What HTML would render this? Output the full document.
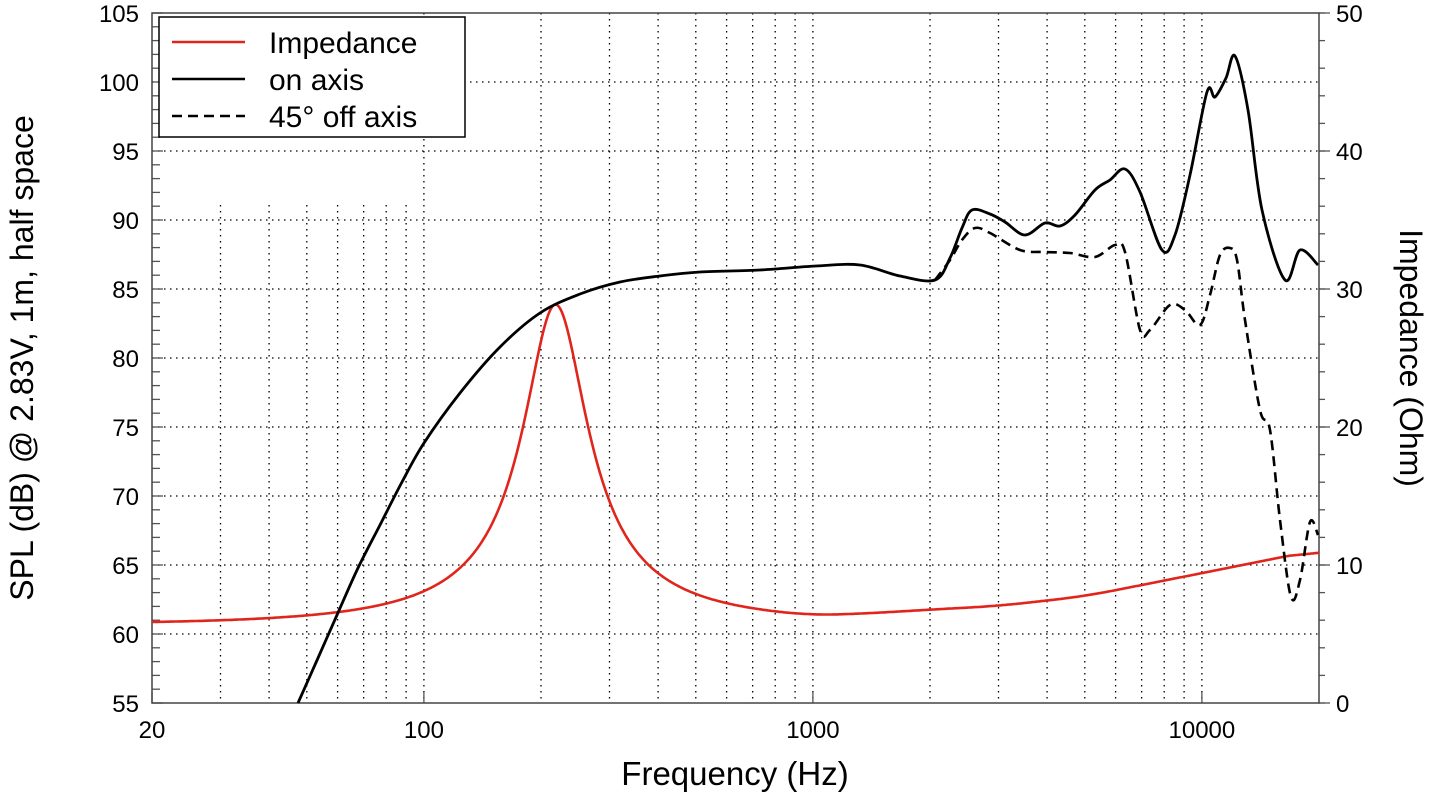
<!DOCTYPE html>
<html><head><meta charset="utf-8"><style>
html,body{margin:0;padding:0;background:#fff;}
svg{display:block;font-family:"Liberation Sans",Arial,sans-serif;}
</style></head><body>
<svg id="s" width="1432" height="797" viewBox="0 0 1432 797" xmlns="http://www.w3.org/2000/svg">
<g id="grid" stroke="#000" stroke-width="1.3" stroke-dasharray="1.5,4.5" fill="none"></g>
<g id="ticks" stroke="#555" stroke-width="1.3"></g>
<rect x="152" y="13" width="1167" height="690" fill="none" stroke="#444" stroke-width="1.5"/>
<g id="labels" font-size="24" fill="#000"></g>
<text x="735" y="785" font-size="33" text-anchor="middle">Frequency (Hz)</text>
<text transform="translate(33,358) rotate(-90)" font-size="32" text-anchor="middle">SPL (dB) @ 2.83V, 1m, half space</text>
<text transform="translate(1400,358) rotate(90)" font-size="32" text-anchor="middle">Impedance (Ohm)</text>
<path id="red" fill="none" stroke="#e0261c" stroke-width="2.6"/>
<path id="dash" fill="none" stroke="#000" stroke-width="2.6" stroke-dasharray="10,6"/>
<path id="blk" fill="none" stroke="#000" stroke-width="2.8"/>
<rect x="159" y="17" width="306" height="120" fill="#fff" stroke="#000" stroke-width="1.5"/>
<line x1="172" y1="42" x2="245" y2="42" stroke="#e0261c" stroke-width="2.6"/>
<line x1="172" y1="79" x2="245" y2="79" stroke="#000" stroke-width="2.6"/>
<line x1="172" y1="116" x2="245" y2="116" stroke="#000" stroke-width="2.6" stroke-dasharray="10,6"/>
<text x="269" y="53" font-size="30">Impedance</text>
<text x="269" y="90" font-size="30">on axis</text>
<text x="269" y="127" font-size="30">45° off axis</text>
</svg>
<script>
const NS="http://www.w3.org/2000/svg";
function X(f){return 152+389*Math.log10(f/20);}
function el(g,t,a,txt){const e=document.createElementNS(NS,t);for(const k in a)e.setAttribute(k,a[k]);if(txt!==undefined)e.textContent=txt;document.getElementById(g).appendChild(e);}
const fs=[30,40,50,60,70,80,90,100,200,300,400,500,600,700,800,900,1000,2000,3000,4000,5000,6000,7000,8000,9000,10000];
for(const f of fs){const x=X(f);el("grid","line",{x1:x,y1:(f<100?205:13),x2:x,y2:703});}
for(let v=60;v<=100;v+=5){const y=703-(v-55)*13.8;el("grid","line",{x1:152,y1:y,x2:1319,y2:y});}
for(let v=55;v<=105;v++){const y=703-(v-55)*13.8;el("ticks","line",{x1:152,y1:y,x2:v%5==0?163:160,y2:y});}
for(let o=0;o<=50;o+=2){const y=703-o*13.8;el("ticks","line",{x1:1319,y1:y,x2:1325,y2:y});}
for(let o=0;o<=50;o+=10){const y=703-o*13.8;el("ticks","line",{x1:1319,y1:y,x2:1330,y2:y});el("labels","text",{x:1336,y:y+9},o);}
for(let v=55;v<=105;v+=5){const y=703-(v-55)*13.8;el("labels","text",{x:139,y:y+9,"text-anchor":"end"},v);}
for(const f of [20,100,1000,10000]){const x=X(f);el("labels","text",{x:x,y:738,"text-anchor":"middle"},f);el("ticks","line",{x1:x,y1:703,x2:x,y2:692});}
function path(p){let d="M"+p[0][0]+","+p[0][1];for(let i=0;i<p.length-1;i++){const p0=p[i-1]||p[i],p1=p[i],p2=p[i+1],p3=p[i+2]||p2;
d+=" C"+(p1[0]+(p2[0]-p0[0])/6)+","+(p1[1]+(p2[1]-p0[1])/6)+" "+(p2[0]-(p3[0]-p1[0])/6)+","+(p2[1]-(p3[1]-p1[1])/6)+" "+p2[0]+","+p2[1];}return d;}
const blk=[[298,703],[318,658],[337,615],[358,568],[380,525],[402,482],[424,443],[460,393],[500,347],[540,313],[580,294],[620,282],[660,276],[700,272],[760,270],[816,266],[860,265],[900,276],[935,280],[950,258],[962,228],[972,210],[990,214],[1005,222],[1025,235],[1045,223],[1060,226],[1075,215],[1095,190],[1110,180],[1125,169],[1140,192],[1162,250],[1175,235],[1190,175],[1207,92],[1215,97],[1226,78],[1235,56],[1248,110],[1262,210],[1285,280],[1300,250],[1318,265]];
const dash=[[935,280],[950,260],[962,240],[975,228],[990,233],[1020,250],[1045,252],[1070,253],[1095,257],[1115,245],[1125,252],[1140,330],[1150,330],[1170,305],[1185,310],[1200,325],[1210,295],[1220,255],[1230,248],[1237,260],[1245,320],[1260,410],[1270,430],[1280,520],[1291,597],[1300,580],[1310,522],[1318,535]];
function lerpLog(f){const pts=[[20,5.74],[100,5.75],[1000,5.83],[2000,6.6],[3000,6.95],[5000,7.7],[10000,9.4],[20000,11.1]];const l=Math.log10(f);
for(let i=0;i<pts.length-1;i++){const a=Math.log10(pts[i][0]),b=Math.log10(pts[i+1][0]);if(l<=b){const t=(l-a)/(b-a);return pts[i][1]+t*(pts[i+1][1]-pts[i][1]);}}return 11.1;}
// smooth the piecewise base by sampling then averaging
let xs=[],zs=[];
for(let x=152;x<=1319;x+=1.5){const f=20*Math.pow(10,(x-152)/389);xs.push(x);zs.push(lerpLog(f));}
let zb=zs.map((v,i)=>{let s=0,n=0;for(let k=-20;k<=20;k++){const j=i+k;if(j>=0&&j<zs.length){s+=zs[j];n++;}}return s/n;});
let d="";
xs.forEach((x,i)=>{const f=20*Math.pow(10,(x-152)/389);const fsr=218,Q=2.35;const u=Q*(f/fsr-fsr/f);
const z=zb[i]+23.1/Math.pow(1+u*u,0.8);const y=703-z*13.8;d+=(d?" L":"M")+x.toFixed(1)+","+y.toFixed(1);});
document.getElementById("blk").setAttribute("d",path(blk));
document.getElementById("dash").setAttribute("d",path(dash));
document.getElementById("red").setAttribute("d",d);
</script>
</body></html>
